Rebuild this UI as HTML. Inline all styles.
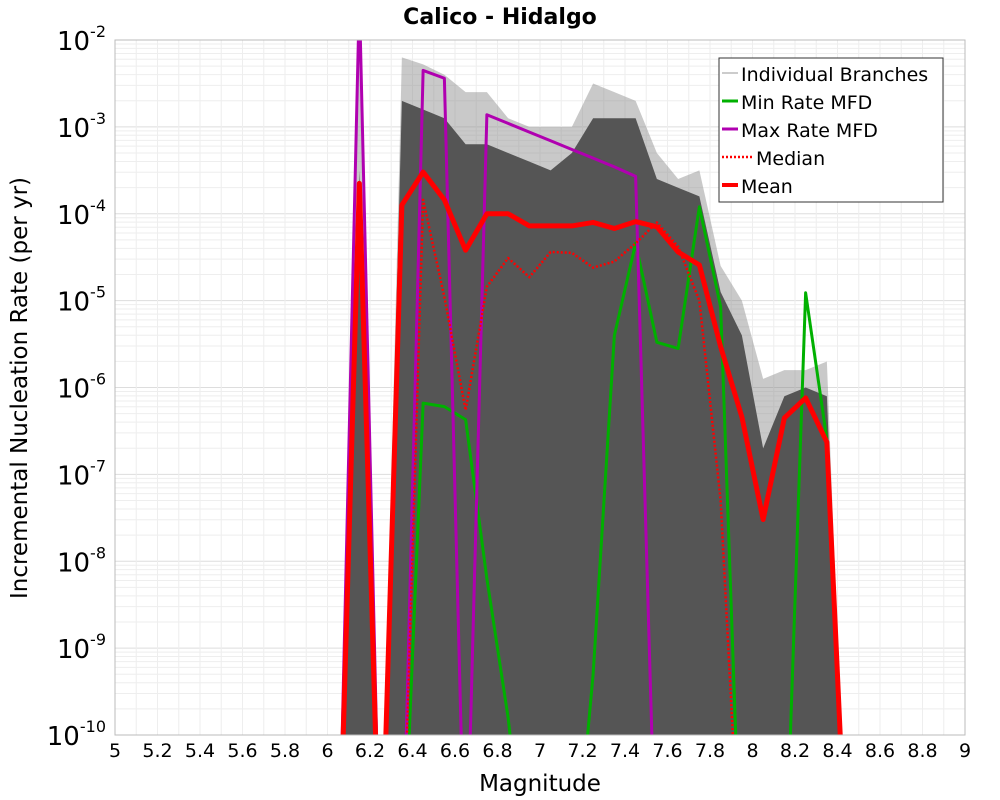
<!DOCTYPE html>
<html><head><meta charset="utf-8"><style>
html,body{margin:0;padding:0;background:#fff;overflow:hidden;width:1000px;height:800px}
svg{display:block}
svg text{font-family:"DejaVu Sans","Liberation Sans",sans-serif}
</style></head><body>
<svg id="chart" width="1000" height="800" xmlns="http://www.w3.org/2000/svg">
<defs><clipPath id="clip"><rect x="115" y="40" width="850" height="695"/></clipPath></defs>
<text x="500" y="24" text-anchor="middle" font-size="22" font-weight="bold">Calico - Hidalgo</text>
<g id="grid"></g>
<g id="plot" clip-path="url(#clip)"></g>
<rect x="115" y="40" width="850" height="695" fill="none" stroke="#bbb"/>
<g id="axes"></g>
<text x="540" y="791" text-anchor="middle" font-size="23">Magnitude</text>
<text transform="translate(27,388) rotate(-90)" text-anchor="middle" font-size="23">Incremental Nucleation Rate (per yr)</text>
<g>
<rect x="719" y="58" width="224" height="144" fill="#fff" stroke="#333"/>
<g><line x1="722" y1="73" x2="738" y2="73" stroke="#999" stroke-width="1"/><text x="741" y="81" font-size="19">Individual Branches</text></g>
<g><line x1="722" y1="101" x2="738" y2="101" stroke="#00b000" stroke-width="3"/><text x="741" y="109" font-size="19">Min Rate MFD</text></g>
<g><line x1="722" y1="129" x2="738" y2="129" stroke="#b000b0" stroke-width="3"/><text x="741" y="137" font-size="19">Max Rate MFD</text></g>
<g><line x1="722" y1="157" x2="752" y2="157" stroke="#f00" stroke-width="2.5" stroke-dasharray="2,2"/><text x="756" y="165" font-size="19">Median</text></g>
<g><line x1="722" y1="185" x2="738" y2="185" stroke="#f00" stroke-width="4"/><text x="741" y="193" font-size="19">Mean</text></g>
</g>
</svg>
<script>
const mags=[6.05,6.15,6.25,6.35,6.45,6.55,6.65,6.75,6.85,6.95,7.05,7.15,7.25,7.35,7.45,7.55,7.65,7.75,7.85,7.95,8.05,8.15,8.25,8.35,8.45];
const meanLog=[-12,-3.65,-12,-3.9,-3.52,-3.84,-4.42,-4.0,-4.0,-4.14,-4.14,-4.14,-4.1,-4.17,-4.09,-4.15,-4.44,-4.59,-5.53,-6.34,-7.52,-6.35,-6.12,-6.63,-12];
const medianLog=[-12,-12,-12,-12,-3.84,-4.96,-6.26,-4.84,-4.51,-4.73,-4.44,-4.45,-4.62,-4.55,-4.34,-4.1,-4.38,-5.0,-7.3,-12,-12,-12,-12,-12,-12];
const minLog=[-12,-12,-12,-12,-6.18,-6.22,-6.37,-8.2,-9.8,-12,-12,-12,-9.3,-5.4,-4.34,-5.48,-5.55,-3.92,-5.07,-12,-12,-12,-4.91,-6.6,-12];
const maxLog=[-12,-1.5,-12,-12,-2.35,-2.44,-12,-2.86,-2.96,-3.06,-3.16,-3.26,-3.36,-3.46,-3.57,-12,-12,-12,-12,-12,-12,-12,-12,-12,-12];
const envTopLog=[-12,-2.2,-12,-2.2,-2.28,-2.4,-2.6,-2.6,-2.9,-3.0,-3.0,-3.0,-2.5,-2.6,-2.7,-3.3,-3.6,-3.5,-4.6,-5.0,-5.9,-5.8,-5.8,-5.7,-12];
const denseTopLog=[-12,-3.5,-12,-2.7,-2.8,-2.9,-3.2,-3.2,-3.3,-3.4,-3.5,-3.3,-2.9,-2.9,-2.9,-3.6,-3.7,-3.8,-4.9,-5.4,-6.7,-6.1,-6.0,-6.1,-12];
const xTicks=[5,5.2,5.4,5.6,5.8,6,6.2,6.4,6.6,6.8,7,7.2,7.4,7.6,7.8,8,8.2,8.4,8.6,8.8,9];
const yTicks=[-2,-3,-4,-5,-6,-7,-8,-9,-10];
const NS="http://www.w3.org/2000/svg";
const X=m=>115+(m-5)*212.5;
const Y=l=>40+(-2-l)*86.875;
function mk(tag,attrs,parent){const e=document.createElementNS(NS,tag);for(const k in attrs)e.setAttribute(k,attrs[k]);parent.appendChild(e);return e;}
const grid=document.getElementById('grid'),plot=document.getElementById('plot'),axes=document.getElementById('axes');
for(let d=-10;d<-2;d++){for(let k=1;k<10;k++){const y=Y(d+Math.log10(k));const l=mk('line',{x1:115,x2:965,y1:y,y2:y,stroke:k==1?'#ddd':'#eee','stroke-width':1},grid);

}}
for(let m=5;m<=9.001;m+=0.1){const l=mk('line',{x1:X(m),x2:X(m),y1:40,y2:735,stroke:'#eee'},grid);

}
xTicks.forEach(t=>{const e=mk('text',{x:X(t),y:757,'text-anchor':'middle','font-size':19},axes);e.textContent=String(t);

});
yTicks.forEach(t=>{const e=mk('text',{x:106,y:Y(t)+10,'text-anchor':'end','font-size':26},axes);


e.textContent='10';const s=mk('tspan',{dy:-13,'font-size':16},e);s.textContent=String(t);});
function pts(arr){return mags.map((m,i)=>X(m)+','+Y(arr[i])).join(' ');}
function area(arr,fill,op,name){const p='115,'+Y(-12)+' '+pts(arr)+' 965,'+Y(-12);const e=mk('polygon',{points:p,fill:fill,'fill-opacity':op},plot);

}
area(envTopLog,'#888',0.45,'branches-envelope');
area(denseTopLog,'#555',1,'branches-dense');
function line(arr,color,w,dash,name){const e=mk('polyline',{points:pts(arr),fill:'none',stroke:color,'stroke-width':w,'stroke-linejoin':'round'},plot);if(dash)e.setAttribute('stroke-dasharray',dash);

}
line(minLog,'#00b000',3,null,'min-rate-line');
line(maxLog,'#b000b0',3,null,'max-rate-line');
line(medianLog,'#f00',2.5,'2,2','median-line');
line(meanLog,'#f00',5,null,'mean-line');
</script>
</body></html>
